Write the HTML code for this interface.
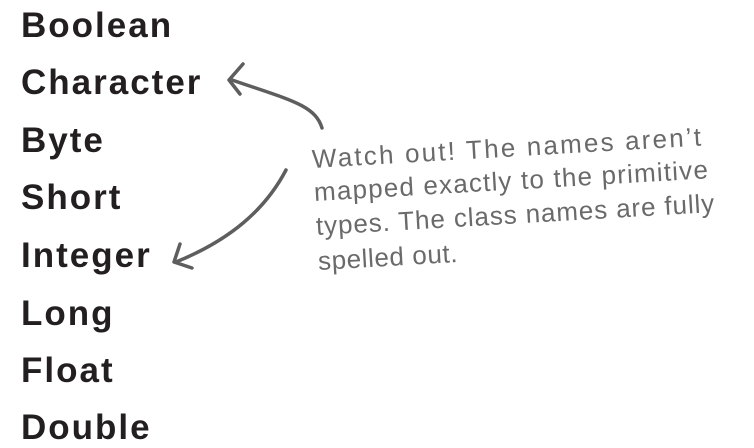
<!DOCTYPE html>
<html><head><style>
body{margin:0;width:754px;height:448px;background:#fff;position:relative;overflow:hidden}
.w{position:absolute;left:21px;font:bold 35px "Liberation Sans",sans-serif;letter-spacing:2px;color:#231f20;line-height:1}
.n{position:absolute;font:26px "Liberation Sans",sans-serif;color:#6a6a6a;white-space:nowrap;transform-origin:0 50%;transform:rotate(-3.3deg);line-height:30px}
</style></head><body>
<div class="w" style="top:8px">Boolean</div>
<div class="w" style="top:65px">Character</div>
<div class="w" style="top:123px">Byte</div>
<div class="w" style="top:180px">Short</div>
<div class="w" style="top:238px">Integer</div>
<div class="w" style="top:296px">Long</div>
<div class="w" style="top:353px">Float</div>
<div class="w" style="top:410px">Double</div>
<div class="n" style="left:312px;top:144px;letter-spacing:2.2px">Watch out! The names aren’t</div>
<div class="n" style="left:314px;top:177px;letter-spacing:1.2px">mapped exactly to the primitive</div>
<div class="n" style="left:316px;top:211px;letter-spacing:0.9px">types. The class names are fully</div>
<div class="n" style="left:318px;top:246px;letter-spacing:0.6px">spelled out.</div>
<svg width="754" height="448" style="position:absolute;left:0;top:0" fill="none" stroke="#5e5e5e" stroke-width="3.5" stroke-linecap="round" stroke-linejoin="round">
<path d="M322 128 C315 105 290 100 232 80"/>
<path d="M243 64 L229 80 L240 94"/>
<path d="M286 170 C265 210 230 240 176 262"/>
<path d="M180 244 L174 262 L192 268"/>
</svg>
</body></html>
